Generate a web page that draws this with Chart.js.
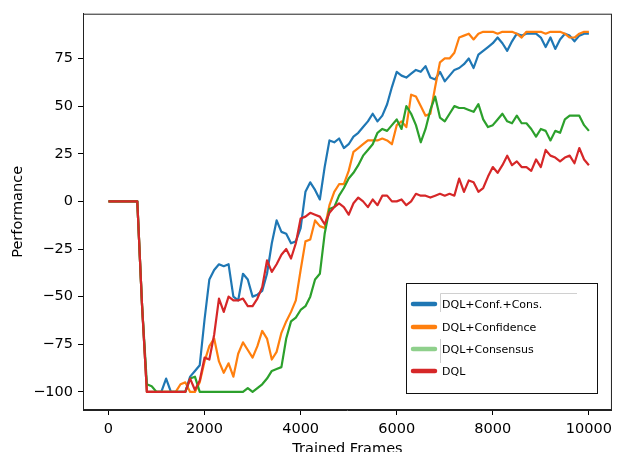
<!DOCTYPE html>
<html>
<head>
<meta charset="utf-8">
<script src="https://cdn.jsdelivr.net/npm/chart.js@4"></script>
<style>
  html, body { margin: 0; padding: 0; background: #fff; }
  #wrap { width: 618px; height: 452px; }
</style>
</head>
<body>
<div id="wrap"><canvas id="chart" width="618" height="452"></canvas></div>
<script>
//Datos (cada 100 frames)
const frames = [];
for (let f = 0; f <= 10000; f += 100) frames.push(f);

const seriesNames = ["DQL+Conf.+Cons.", "DQL+Confidence", "DQL+Consensus", "DQL"];

const confCons = [
  0, 0, 0, 0, 0, 0, 0, -55, -100, -100,
  -100, -100, -93, -100, -100, -100, -100, -92, -89, -86,
  -62, -41, -36, -33, -34, -33, -50, -52, -38, -41,
  -50, -49, -47, -38, -22, -10, -16, -17, -22, -21,
  -14, 5, 10, 6, 1, 18, 32, 31, 33, 28,
  30, 34, 36, 39, 42, 46, 42, 45, 51, 60,
  68, 66, 65, 67, 69, 68, 71, 65, 64, 68,
  63, 66, 69, 70, 72, 75, 70, 77, 79, 81,
  83, 86, 83, 79, 84, 88, 87, 88, 88, 88,
  86, 81, 86, 80, 85, 88, 87, 84, 87, 88,
  88
];
const confidence = [
  0, 0, 0, 0, 0, 0, 0, -55, -100, -100,
  -100, -100, -100, -100, -100, -96, -95, -100, -100, -95,
  -84, -76, -72, -84, -90, -85, -92, -80, -74, -78,
  -82, -76, -68, -72, -83, -79, -69, -63, -58, -52,
  -36, -21, -20, -10, -13, -14, -2, 5, 9, 9,
  16, 26, 28, 30, 32, 32, 32, 33, 32, 30,
  40, 42, 39, 56, 55, 50, 45, 46, 60, 73,
  75, 75, 78, 86, 87, 88, 85, 88, 89, 89,
  89, 88, 89, 89, 89, 88, 86, 89, 89, 89,
  89, 88, 89, 89, 89, 88, 86, 86, 88, 89,
  89
];
const consensus = [
  0, 0, 0, 0, 0, 0, 0, -55, -96, -97,
  -100, -100, -100, -100, -100, -100, -100, -93, -92, -100,
  -100, -100, -100, -100, -100, -100, -100, -100, -100, -98,
  -100, -98, -96, -93, -89, -88, -87, -72, -63, -61,
  -57, -55, -50, -41, -38, -17, -4, -3, 3, 7,
  12, 15, 19, 24, 27, 30, 36, 38, 37, 40,
  43, 38, 50, 46, 40, 31, 38, 48, 55, 44,
  42, 46, 50, 49, 49, 48, 47, 51, 43, 39,
  40, 43, 46, 42, 41, 45, 41, 41, 38, 34,
  38, 37, 32, 37, 36, 43, 45, 45, 45, 40,
  37
];
const dql = [
  0, 0, 0, 0, 0, 0, 0, -55, -100, -100,
  -100, -100, -100, -100, -100, -100, -100, -93, -99, -94,
  -82, -83, -70, -51, -58, -50, -52, -52, -51, -55,
  -55, -51, -45, -31, -37, -33, -28, -25, -30, -22,
  -9, -8, -6, -7, -8, -12, -6, -3, -1, -3,
  -7, -1, 2, 0, -3, 1, -2, 3, 3, 0,
  0, 1, -2, 0, 4, 3, 3, 2, 3, 4,
  3, 4, 3, 12, 5, 11, 10, 5, 7, 13,
  18, 15, 19, 24, 19, 21, 18, 18, 16, 22,
  18, 27, 24, 23, 21, 23, 24, 20, 28, 22,
  19
];

const xTicks = [0, 2000, 4000, 6000, 8000, 10000];
const yTicks = [-100, -75, -50, -25, 0, 25, 50, 75];

const colores = ["#1f77b4", "#ff7f0e", "#2ca02c", "#d62728"];
const coloresLeyenda = ["#1f77b4", "#ff7f0e", "#8fd08c", "#d62728"];

const toXY = vals => vals.map((v, i) => ({ x: frames[i], y: v }));
const font = "DejaVu Sans";
const menos = v => String(v).replace("-", "\u2212");

//Marco completo y leyenda dentro del área
const marco = {
  id: "marco",
  afterDraw(chart) {
    const { ctx, chartArea: a } = chart;
    ctx.save();
    ctx.strokeStyle = "#222";
    ctx.lineWidth = 1;
    ctx.strokeRect(a.left + 0.5, a.top + 0.5, a.right - a.left - 1, a.bottom - a.top - 1);

    //leyenda
    const bx = 406, by = 283, bw = 191, bh = 110;
    ctx.fillStyle = "#fff";
    ctx.fillRect(bx, by, bw, bh);
    ctx.strokeStyle = "#111";
    ctx.strokeRect(bx + 0.5, by + 0.5, bw, bh);

    ctx.strokeStyle = "#d0d0d0";
    ctx.beginPath();
    ctx.moveTo(440.5, 293.5); ctx.lineTo(577, 293.5);
    ctx.moveTo(440.5, 293.5); ctx.lineTo(440.5, 312);
    ctx.moveTo(440.5, 339); ctx.lineTo(440.5, 363);
    ctx.stroke();

    const ys = [304, 327, 349, 371];
    ctx.font = "11px '" + font + "'";
    ctx.textBaseline = "middle";
    seriesNames.forEach((n, i) => {
      ctx.strokeStyle = coloresLeyenda[i];
      ctx.lineWidth = 4.5;
      ctx.lineCap = "round";
      ctx.beginPath();
      ctx.moveTo(413, ys[i]);
      ctx.lineTo(435, ys[i]);
      ctx.stroke();
      ctx.fillStyle = "#000";
      ctx.fillText(n, 442, ys[i] + 1);
    });
    ctx.restore();
  }
};

const ctx = document.getElementById("chart").getContext("2d");
const chart = new Chart(ctx, {
  type: "line",
  data: {
    datasets: [confCons, confidence, consensus, dql].map((vals, i) => ({
      label: seriesNames[i],
      data: toXY(vals),
      borderColor: colores[i],
      backgroundColor: colores[i],
      borderWidth: 2.2,
      pointRadius: 0,
      tension: 0,
      borderJoinStyle: "round",
      order: 4 - i,
    })),
  },
  options: {
    responsive: false,
    animation: false,
    devicePixelRatio: 1,
    layout: { padding: { top: 13, right: 1, left: 0, bottom: 0 } },
    plugins: { legend: { display: false }, tooltip: { enabled: false } },
    scales: {
      x: {
        type: "linear",
        min: -530,
        max: 10480,
        afterFit: s => { s.height = 42; },
        afterBuildTicks: s => { s.ticks = xTicks.map(v => ({ value: v })); },
        grid: { drawOnChartArea: false, drawTicks: true, tickLength: 5, tickColor: "#000" },
        border: { display: true, color: "#222" },
        ticks: {
          color: "#000", padding: 6, maxRotation: 0,
          font: { family: font, size: 14.5 },
          callback: v => menos(v),
        },
        title: {
          display: true, text: "Trained Frames", color: "#000",
          font: { family: font, size: 14.5, lineHeight: 1 },
          padding: { top: 0, bottom: -4 },
        },
      },
      y: {
        type: "linear",
        min: -109.5,
        max: 98.5,
        afterFit: s => { s.width = 83; },
        afterBuildTicks: s => { s.ticks = yTicks.map(v => ({ value: v })); },
        grid: { drawOnChartArea: false, drawTicks: true, tickLength: 5, tickColor: "#000" },
        border: { display: true, color: "#222" },
        ticks: {
          color: "#000", padding: 5,
          font: { family: font, size: 14.5 },
          callback: v => menos(v),
        },
        title: {
          display: true, text: "Performance", color: "#000",
          font: { family: font, size: 14.5, lineHeight: 1 },
          padding: { top: 11, bottom: 0 },
        },
      },
    },
  },
  plugins: [marco],
});
</script>
</body>
</html>
